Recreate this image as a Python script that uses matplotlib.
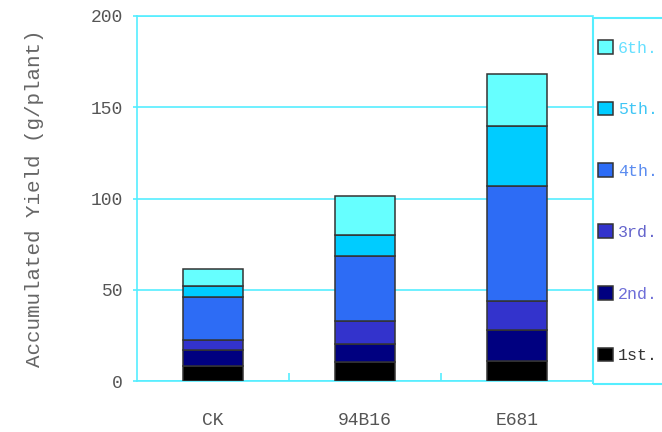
import numpy as np
import matplotlib.pyplot as plt
from matplotlib.patches import Rectangle

# Yield per harvest (g/plant), stacked from the 1st to the 6th harvest
cultivars = ['CK', '94B16', 'E681']
harvests = ['1st.', '2nd.', '3rd.', '4th.', '5th.', '6th.']
yield_1st = [8.1, 10.2, 11.0]
yield_2nd = [8.7, 9.9, 16.8]
yield_3rd = [5.5, 13.0, 16.2]
yield_4th = [23.7, 35.2, 62.7]
yield_5th = [5.9, 11.9, 33.0]
yield_6th = [9.7, 21.2, 28.3]

series = [yield_1st, yield_2nd, yield_3rd, yield_4th, yield_5th, yield_6th]
colors = ['#000000', '#000080', '#3333cc', '#2d6cf5', '#00ccff', '#66ffff']
text_colors = ['#333333', '#6e6ed8', '#6464cc', '#5b8cf0', '#3fc6f5', '#66e0ff']
cyan = '#55eeff'

plt.rcParams['font.family'] = ['Liberation Mono', 'DejaVu Sans Mono']

fig = plt.figure(figsize=(6.62, 4.32), dpi=100)
ax = fig.add_axes([137/662, 51/432, 456/662, 365/432])

x = np.arange(len(cultivars))
bottom = np.zeros(len(cultivars))
bars = []
for vals, c in zip(series, colors):
    b = ax.bar(x, vals, width=0.40, bottom=bottom, color=c,
               edgecolor='#333333', linewidth=1.1, zorder=3)
    bars.append(b)
    bottom += np.array(vals)

ax.set_xlim(-0.5, 2.5)
ax.set_ylim(0, 200)
ax.set_yticks([0, 50, 100, 150, 200])
ax.yaxis.grid(True, color=cyan, linewidth=1.2, zorder=0)
ax.set_axisbelow(True)

for side in ['left', 'bottom', 'top']:
    ax.spines[side].set_color(cyan)
    ax.spines[side].set_linewidth(1.2)
ax.spines['right'].set_visible(False)

ax.set_xticks(x)
ax.set_xticklabels(cultivars)
ax.set_xticks([0.5, 1.5], minor=True)
ax.tick_params(axis='x', which='major', length=0, pad=22, labelsize=13, labelcolor='#555555')
ax.tick_params(axis='x', which='minor', direction='in', length=6, color=cyan, width=1.2)
ax.tick_params(axis='y', direction='out', length=3, color=cyan, width=1.2,
               labelsize=13, labelcolor='#555555', pad=7)

ax.set_ylabel('Accumulated Yield (g/plant)', fontsize=15, color='#666666', labelpad=34)

# legend panel on the right
fig.patches.append(Rectangle((593/662, 48/432), 0.2, 366/432, transform=fig.transFigure,
                             fill=False, edgecolor=cyan, linewidth=1.5))
leg = fig.legend([b[0] for b in bars[::-1]], harvests[::-1],
                 loc='upper left', bbox_to_anchor=(598/662, 1 - 40/432),
                 frameon=False, fontsize=12, handlelength=0.9, handleheight=0.9,
                 handletextpad=0.3, labelspacing=2.75, borderaxespad=0, borderpad=0)
for t, c in zip(leg.get_texts(), text_colors[::-1]):
    t.set_color(c)

fig.savefig('out.png', dpi=100, facecolor='white')
